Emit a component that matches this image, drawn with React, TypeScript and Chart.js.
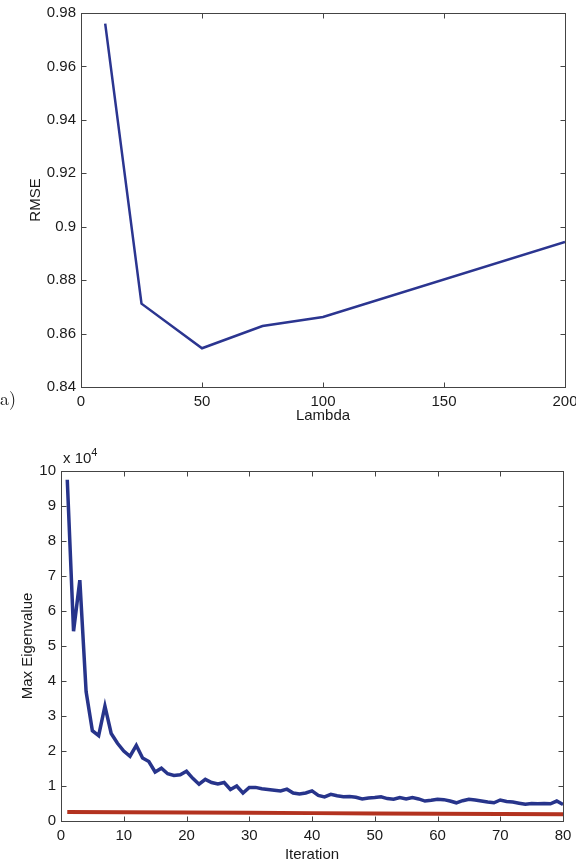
import React, { useEffect, useRef } from "react";
import { Chart, registerables } from "chart.js";

Chart.register(...registerables);

// ---- Data: panel a) ----
const lambdaValues = [10, 25, 50, 75, 100, 200];
const rmseValues = [0.976, 0.8712, 0.8545, 0.8628, 0.8662, 0.8943];

// ---- Data: bottom panel (values in units of 10^4) ----
const iterations = [
  1, 2, 3, 4, 5, 6, 7, 8, 9, 10, 11, 12, 13, 14, 15, 16, 17, 18, 19, 20,
  21, 22, 23, 24, 25, 26, 27, 28, 29, 30, 31, 32, 33, 34, 35, 36, 37, 38, 39, 40,
  41, 42, 43, 44, 45, 46, 47, 48, 49, 50, 51, 52, 53, 54, 55, 56, 57, 58, 59, 60,
  61, 62, 63, 64, 65, 66, 67, 68, 69, 70, 71, 72, 73, 74, 75, 76, 77, 78, 79, 80,
];
const maxEigenvalue = [
  9.75, 5.42, 6.88, 3.7, 2.58, 2.44, 3.28, 2.5, 2.22, 2.0,
  1.85, 2.16, 1.8, 1.7, 1.4, 1.51, 1.35, 1.3, 1.32, 1.42,
  1.22, 1.05, 1.19, 1.1, 1.06, 1.1, 0.9, 1.0, 0.8, 0.96,
  0.96, 0.92, 0.9, 0.88, 0.86, 0.91, 0.8, 0.77, 0.8, 0.86,
  0.73, 0.69, 0.76, 0.72, 0.69, 0.7, 0.68, 0.63, 0.66, 0.67,
  0.69, 0.64, 0.62, 0.67, 0.63, 0.67, 0.63, 0.57, 0.59, 0.62,
  0.61, 0.57, 0.52, 0.58, 0.62, 0.6, 0.57, 0.54, 0.52, 0.6,
  0.56, 0.54, 0.51, 0.48, 0.5, 0.49, 0.5, 0.49, 0.57, 0.47,
];
const baselineIter = [1, 10, 20, 30, 40, 50, 60, 70, 80];
const baselineValues = [0.26, 0.25, 0.245, 0.235, 0.225, 0.215, 0.205, 0.2, 0.19];

const FONT = "'Liberation Sans', Arial, Helvetica, sans-serif";
const TEXT = "#1a1a1a";

const boxPlugin = {
  id: "matlabBox",
  afterDraw(chart: any) {
    const { ctx, chartArea: a, scales } = chart;
    ctx.save();
    ctx.strokeStyle = "#444";
    ctx.lineWidth = 1;
    const L = 5;
    const line = (x1: number, y1: number, x2: number, y2: number) => {
      ctx.beginPath();
      ctx.moveTo(x1, y1);
      ctx.lineTo(x2, y2);
      ctx.stroke();
    };
    const l = Math.round(a.left) + 0.5;
    const r = Math.round(a.right) + 0.5;
    const t = Math.round(a.top) + 0.5;
    const b = Math.round(a.bottom) + 0.5;
    ctx.strokeRect(l, t, r - l, b - t);
    scales.x.ticks.forEach((tk: any) => {
      const px = Math.round(scales.x.getPixelForValue(tk.value)) + 0.5;
      line(px, b, px, b - L);
      line(px, t, px, t + L);
    });
    scales.y.ticks.forEach((tk: any) => {
      const py = Math.round(scales.y.getPixelForValue(tk.value)) + 0.5;
      line(l, py, l + L, py);
      line(r, py, r - L, py);
    });
    ctx.restore();
  },
};

function makeOptions(p: {
  padTop: number;
  padRight: number;
  yWidth: number;
  xHeight: number;
  xMin: number;
  xMax: number;
  xStep: number;
  yMin: number;
  yMax: number;
  yStep: number;
  xTitle: string;
  yTitle: string;
  yTitlePad: number;
  xTitlePad: number;
  yFmt: (v: number) => string;
}) {
  const tickFont = { family: FONT, size: 15 };
  return {
    responsive: false,
    animation: false as const,
    layout: { padding: { top: p.padTop, right: p.padRight, left: 0, bottom: 0 } },
    plugins: { legend: { display: false }, tooltip: { enabled: false } },
    elements: { point: { radius: 0 } },
    scales: {
      x: {
        type: "linear" as const,
        min: p.xMin,
        max: p.xMax,
        grid: { display: false, drawTicks: false },
        border: { display: false },
        ticks: { stepSize: p.xStep, font: tickFont, color: TEXT, padding: 6, maxRotation: 0 },
        title: {
          display: true,
          text: p.xTitle,
          font: { family: FONT, size: 15 },
          color: TEXT,
          padding: { top: 0, bottom: p.xTitlePad },
        },
        afterFit: (s: any) => {
          s.height = p.xHeight;
          s.paddingLeft = 0;
          s.paddingRight = 0;
        },
      },
      y: {
        type: "linear" as const,
        min: p.yMin,
        max: p.yMax,
        grid: { display: false, drawTicks: false },
        border: { display: false },
        ticks: {
          stepSize: p.yStep,
          font: tickFont,
          color: TEXT,
          padding: 5,
          callback: (v: any) => p.yFmt(Number(v)),
        },
        title: {
          display: true,
          text: p.yTitle,
          font: { family: FONT, size: 15 },
          color: TEXT,
          padding: { top: p.yTitlePad, bottom: 0 },
        },
        afterFit: (s: any) => {
          s.width = p.yWidth;
          s.paddingTop = 0;
          s.paddingBottom = 0;
        },
      },
    },
  };
}

function RmseChart() {
  const ref = useRef<HTMLCanvasElement>(null);
  useEffect(() => {
    if (!ref.current) return;
    const chart = new Chart(ref.current, {
      type: "line",
      data: {
        datasets: [
          {
            data: lambdaValues.map((x, i) => ({ x, y: rmseValues[i] })),
            borderColor: "#2b3590",
            borderWidth: 2.5,
            tension: 0,
            fill: false,
          },
        ],
      },
      options: makeOptions({
        padTop: 13,
        padRight: 11,
        yWidth: 81,
        xHeight: 38,
        xMin: 0,
        xMax: 200,
        xStep: 50,
        yMin: 0.84,
        yMax: 0.98,
        yStep: 0.02,
        xTitle: "Lambda",
        yTitle: "RMSE",
        yTitlePad: 27,
        xTitlePad: 0,
        yFmt: (v) => String(parseFloat(v.toFixed(2))),
      }) as any,
      plugins: [boxPlugin],
    });
    return () => chart.destroy();
  }, []);
  return (
    <canvas
      ref={ref}
      width={576}
      height={425}
      style={{ position: "absolute", left: 0, top: 0, width: 576, height: 425 }}
    />
  );
}

function EigenChart() {
  const ref = useRef<HTMLCanvasElement>(null);
  useEffect(() => {
    if (!ref.current) return;
    const chart = new Chart(ref.current, {
      type: "line",
      data: {
        datasets: [
          {
            data: iterations.map((x, i) => ({ x, y: maxEigenvalue[i] })),
            borderColor: "#27348b",
            borderWidth: 3.5,
            tension: 0,
            fill: false,
          },
          {
            data: baselineIter.map((x, i) => ({ x, y: baselineValues[i] })),
            borderColor: "#b3321f",
            borderWidth: 4,
            tension: 0,
            fill: false,
          },
        ],
      },
      options: makeOptions({
        padTop: 46,
        padRight: 13,
        yWidth: 61,
        xHeight: 43,
        xMin: 0,
        xMax: 80,
        xStep: 10,
        yMin: 0,
        yMax: 10,
        yStep: 1,
        xTitle: "Iteration",
        yTitle: "Max Eigenvalue",
        yTitlePad: 19,
        xTitlePad: 0,
        yFmt: (v) => String(v),
      }) as any,
      plugins: [boxPlugin],
    });
    return () => chart.destroy();
  }, []);
  return (
    <canvas
      ref={ref}
      width={576}
      height={439}
      style={{ position: "absolute", left: 0, top: 425, width: 576, height: 439 }}
    />
  );
}

export default function App() {
  return (
    <div
      style={{
        position: "absolute",
        left: 0,
        top: 0,
        width: 576,
        height: 864,
        background: "#fff",
        overflow: "hidden",
      }}
    >
      <RmseChart />
      <EigenChart />
      <div
        style={{
          position: "absolute",
          left: 0,
          top: 385,
          fontFamily: "'Latin Modern Roman', 'DejaVu Serif', 'Liberation Serif', serif",
          fontSize: 18,
          color: TEXT,
        }}
      >
        a)
      </div>
      <div
        style={{
          position: "absolute",
          left: 63,
          top: 449,
          fontFamily: FONT,
          fontSize: 15,
          color: TEXT,
          whiteSpace: "nowrap",
        }}
      >
        x 10<sup style={{ fontSize: 11, verticalAlign: "7px", lineHeight: 0 }}>4</sup>
      </div>
    </div>
  );
}
